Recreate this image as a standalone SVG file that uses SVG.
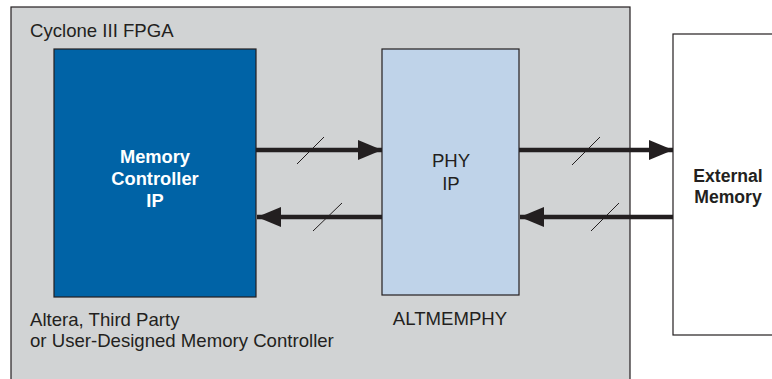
<svg xmlns="http://www.w3.org/2000/svg" width="772" height="379" viewBox="0 0 772 379">
<defs>
<style>
.box{stroke:#231f20;stroke-width:1.2}
.t{font-family:"Liberation Sans",Arial,sans-serif;font-size:18.6px;fill:#231f20}
.b{font-weight:bold;font-size:18.3px}
.w{fill:#ffffff}
.wire{stroke:#231f20;stroke-width:4.5;fill:none}
.slash{stroke:#231f20;stroke-width:1;fill:none}
</style>
<marker id="ah" viewBox="0 0 24 20" refX="24" refY="10" markerWidth="24" markerHeight="20" markerUnits="userSpaceOnUse" orient="auto">
<path d="M0,0 L24,10 L0,20 Z" fill="#231f20"/>
</marker>
</defs>
<rect width="772" height="379" fill="#ffffff"/>
<g id="fpga">
<rect class="box" x="11" y="7" width="619" height="380" fill="#d1d3d4"/>
<text class="t" x="30" y="37">Cyclone III FPGA</text>
</g>
<g id="memory-controller">
<rect class="box" x="54" y="49" width="202" height="248" fill="#0063a6"/>
<text class="t b w" text-anchor="middle" x="155" y="163">Memory</text>
<text class="t b w" text-anchor="middle" x="155" y="185">Controller</text>
<text class="t b w" text-anchor="middle" x="155" y="207">IP</text>
<text class="t" x="30" y="326">Altera, Third Party</text>
<text class="t" x="30" y="347">or User-Designed Memory Controller</text>
</g>
<g id="phy">
<rect class="box" x="382" y="49" width="137" height="246" fill="#bfd3e9"/>
<text class="t" text-anchor="middle" x="451" y="167">PHY</text>
<text class="t" text-anchor="middle" x="451" y="190">IP</text>
<text class="t" text-anchor="middle" x="450" y="325">ALTMEMPHY</text>
</g>
<g id="external-memory">
<rect class="box" x="673" y="34" width="110" height="301" fill="#ffffff"/>
<text class="t b" style="font-size:17.6px" text-anchor="middle" x="728" y="182">External</text>
<text class="t b" style="font-size:17.6px" text-anchor="middle" x="728" y="203">Memory</text>
</g>
<g id="connectors">
<line class="wire" x1="256" y1="150" x2="382" y2="150" marker-end="url(#ah)"/>
<line class="slash" x1="297" y1="164" x2="324" y2="137"/>
<line class="wire" x1="519" y1="150" x2="673" y2="150" marker-end="url(#ah)"/>
<line class="slash" x1="572" y1="165" x2="600" y2="137"/>
<line class="wire" x1="382" y1="217" x2="257" y2="217" marker-end="url(#ah)"/>
<line class="slash" x1="313" y1="231" x2="342" y2="203"/>
<line class="wire" x1="673" y1="217" x2="520" y2="217" marker-end="url(#ah)"/>
<line class="slash" x1="591" y1="231" x2="619" y2="203"/>
</g>
</svg>
